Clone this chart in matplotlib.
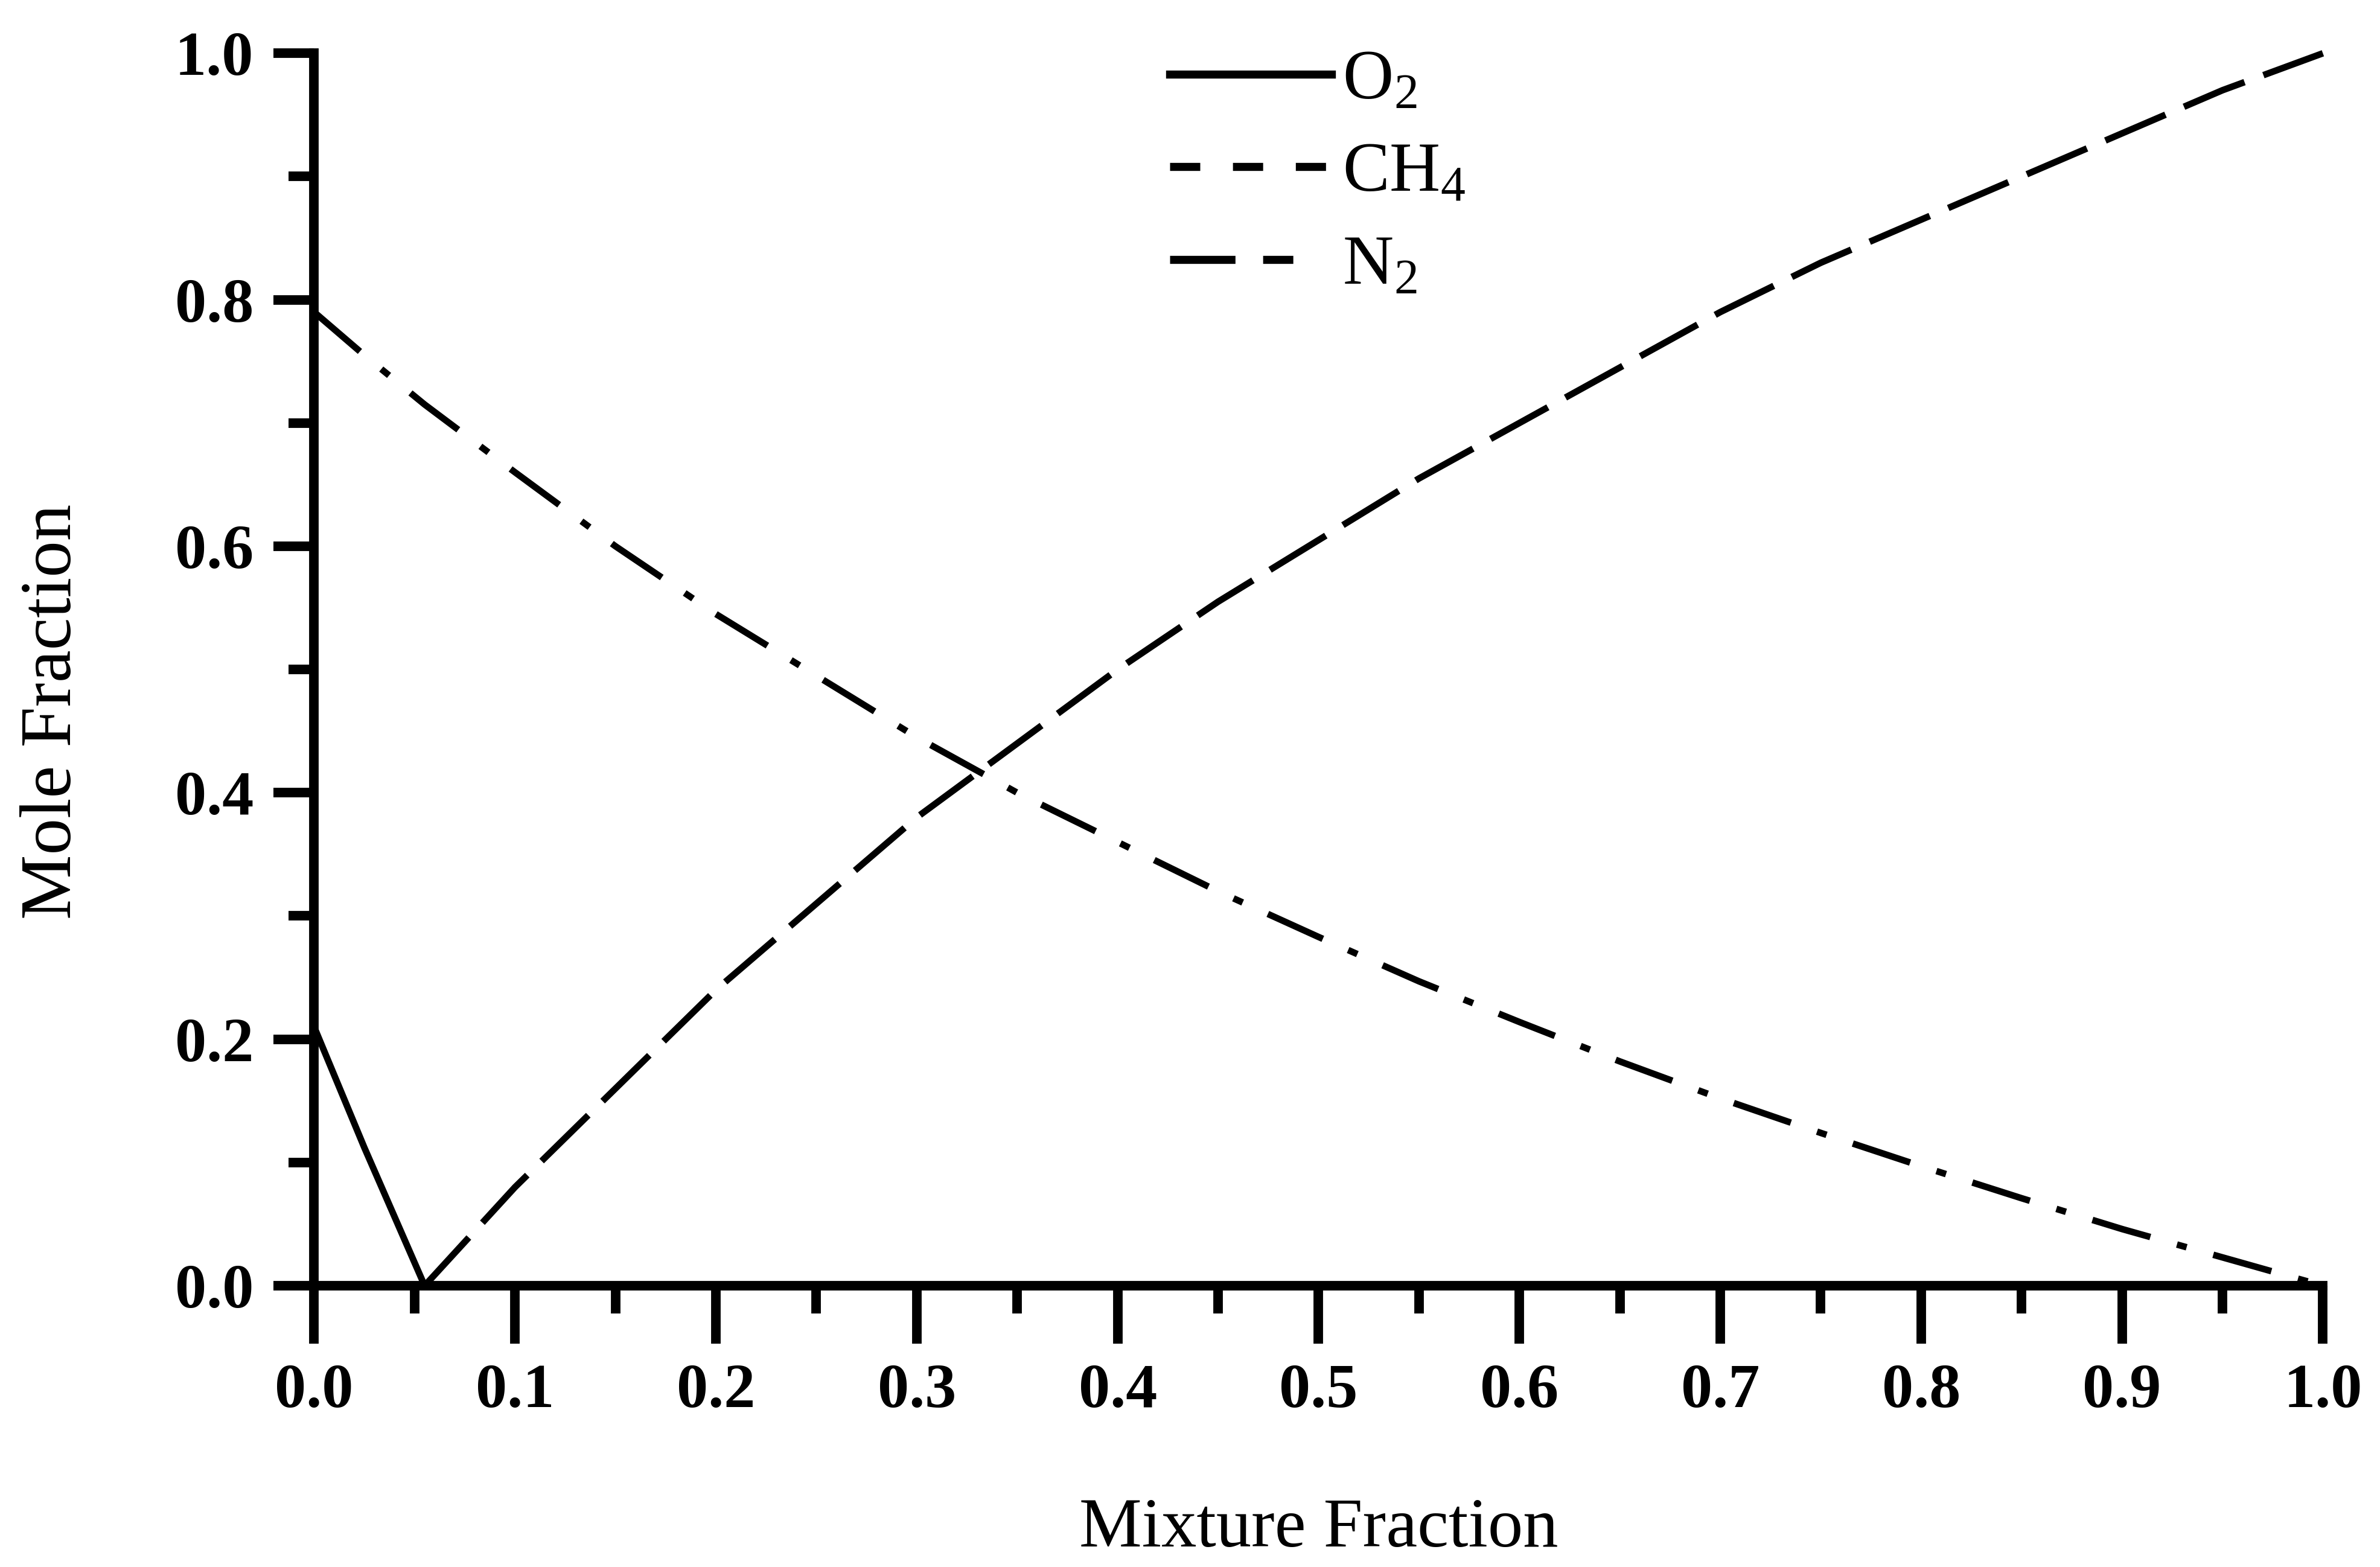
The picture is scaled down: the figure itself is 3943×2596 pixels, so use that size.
import matplotlib
matplotlib.use("Agg")
import matplotlib.pyplot as plt
from matplotlib.lines import Line2D
from matplotlib.ticker import MultipleLocator, FormatStrFormatter

plt.rcParams['font.family'] = ['Liberation Serif', 'DejaVu Serif']
plt.rcParams['mathtext.fontset'] = 'custom'
plt.rcParams['mathtext.rm'] = 'Liberation Serif'
plt.rcParams['lines.scale_dashes'] = False

# mixture fraction vs. mole fraction (flame-sheet limit, CH4/air)
z_o2 = [0.0, 0.025, 0.055]
x_o2 = [0.21, 0.112, 0.0]

z_ch4 = [0.055, 0.1, 0.15, 0.2, 0.25, 0.3, 0.35, 0.4, 0.45, 0.5, 0.55,
         0.6, 0.65, 0.7, 0.75, 0.8, 0.85, 0.9, 0.95, 1.0]
x_ch4 = [0.0, 0.08, 0.16, 0.24, 0.31, 0.38, 0.44, 0.50, 0.555, 0.605, 0.655,
         0.70, 0.745, 0.79, 0.83, 0.865, 0.90, 0.935, 0.97, 1.0]

z_n2 = [0.0, 0.025, 0.055, 0.1, 0.15, 0.2, 0.25, 0.3, 0.35, 0.4, 0.45, 0.5,
        0.55, 0.6, 0.65, 0.7, 0.75, 0.8, 0.85, 0.9, 0.95, 1.0]
x_n2 = [0.79, 0.755, 0.715, 0.66, 0.60, 0.545, 0.495, 0.445, 0.40, 0.36, 0.32,
        0.283, 0.247, 0.214, 0.182, 0.152, 0.124, 0.097, 0.071, 0.046, 0.023, 0.0]

labels = [r'$\mathregular{O_2}$', r'$\mathregular{CH_4}$', r'$\mathregular{N_2}$']

LW = 2.6
STYLE_O2 = '-'
STYLE_CH4 = (0, (26, 8))
STYLE_N2 = (0, (24, 11, 4, 11))

fig = plt.figure(figsize=(3943 / 300, 2596 / 300), dpi=300)
ax = fig.add_axes([0.132, 0.1795, 0.844, 0.7865])

ax.plot(z_o2, x_o2, color='black', lw=LW, ls=STYLE_O2, clip_on=False)
ax.plot(z_ch4, x_ch4, color='black', lw=LW, ls=STYLE_CH4, clip_on=False)
ax.plot(z_n2, x_n2, color='black', lw=LW, ls=STYLE_N2, clip_on=False)

ax.set_xlim(0, 1)
ax.set_ylim(0, 1)

for side in ['top', 'right']:
    ax.spines[side].set_visible(False)
for side in ['left', 'bottom']:
    ax.spines[side].set_linewidth(3.8)
    ax.spines[side].set_capstyle('projecting')

ax.xaxis.set_major_locator(MultipleLocator(0.1))
ax.xaxis.set_minor_locator(MultipleLocator(0.05))
ax.yaxis.set_major_locator(MultipleLocator(0.2))
ax.yaxis.set_minor_locator(MultipleLocator(0.1))
ax.xaxis.set_major_formatter(FormatStrFormatter('%.1f'))
ax.yaxis.set_major_formatter(FormatStrFormatter('%.1f'))

ax.tick_params(axis='x', which='major', direction='out', length=23, width=3.8, pad=8, labelsize=25)
ax.tick_params(axis='x', which='minor', direction='out', length=11, width=3.8)
ax.tick_params(axis='y', which='major', direction='out', length=16, width=3.8, pad=8, labelsize=25)
ax.tick_params(axis='y', which='minor', direction='out', length=10, width=3.8)
for lab in ax.get_xticklabels() + ax.get_yticklabels():
    lab.set_fontweight('bold')

ax.set_xlabel('Mixture Fraction', fontsize=28, va='center')
ax.set_ylabel('Mole Fraction', fontsize=29, va='center')
ax.xaxis.set_label_coords(0.5, -0.198)
ax.yaxis.set_label_coords(-0.13, 0.466)

# legend handles use the short patterns of the key
handles = [
    Line2D([], [], color='black', lw=3.2, ls='-'),
    Line2D([], [], color='black', lw=3.2, ls=(0, (12, 13))),
    Line2D([], [], color='black', lw=3.2, ls=(0, (26, 11, 12, 30))),
]
ax.legend(handles, labels, loc='upper left', bbox_to_anchor=(0.426, 1.003),
          frameon=False, fontsize=28, handlelength=2.3, handletextpad=0.15,
          labelspacing=0.4, borderpad=0, borderaxespad=0)

fig.savefig('out.png', dpi=300)
